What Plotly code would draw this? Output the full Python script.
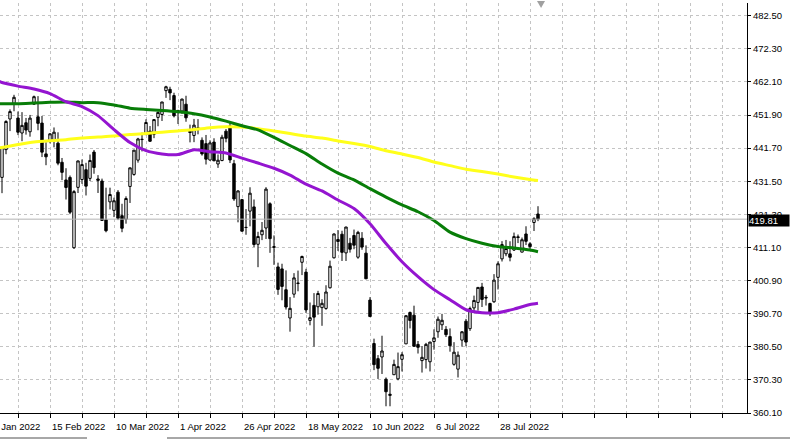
import plotly.graph_objects as go
import pandas as pd

# ---------------- data ----------------
holidays = ["2022-02-21", "2022-04-15", "2022-05-30", "2022-06-20", "2022-07-04"]
dates = pd.bdate_range("2022-01-24", "2022-08-11", freq="C", holidays=holidays)

opens = [432.03, 433.06, 440.72, 438.26, 432.68, 441.24, 450.68, 455.50, 450.95, 446.35,
         449.51, 446.73, 455.22, 451.34, 449.41, 439.92, 443.73, 443.93, 443.22, 437.33,
         431.89, 432.66, 411.02, 429.61, 432.03, 435.04, 432.37, 440.47, 431.75, 431.55,
         419.62, 425.14, 422.52, 428.12, 420.89, 419.77, 429.89, 433.59, 438.00, 444.34,
         445.86, 446.91, 445.94, 451.16, 452.06, 459.40, 459.80, 457.89, 453.31, 453.13,
         455.22, 446.89, 445.59, 447.97, 444.11, 443.08, 438.03, 443.55, 436.81, 437.86,
         446.92, 448.54, 436.91, 423.67, 425.83, 417.24, 422.29, 423.59, 412.07, 415.01,
         417.08, 424.55, 411.10, 405.10, 404.49, 398.07, 389.37, 396.71, 399.98, 406.53,
         403.50, 388.62, 393.25, 392.83, 392.56, 392.31, 398.67, 407.91, 413.55, 415.17,
         409.42, 412.40, 414.78, 408.10, 413.93, 409.34, 394.88, 381.50, 376.85, 377.36,
         370.51, 365.51, 371.89, 370.62, 376.64, 381.40, 391.05, 390.23, 381.23, 376.24,
         376.56, 375.88, 382.11, 385.12, 387.27, 385.85, 383.65, 375.10, 373.61, 382.55,
         388.38, 386.08, 392.47, 394.16, 398.92, 395.75, 393.84, 394.36, 401.89, 407.58,
         409.15, 409.12, 410.30, 414.37, 409.66, 415.25, 412.22, 418.78, 421.40]
highs = [440.38, 439.72, 444.04, 441.59, 442.00, 450.28, 453.63, 458.12, 452.97, 452.78,
         450.99, 451.92, 457.88, 457.71, 451.61, 443.50, 446.28, 448.06, 446.57, 438.66,
         435.50, 433.26, 428.76, 437.84, 438.20, 437.17, 439.72, 441.11, 433.37, 432.30,
         429.51, 429.51, 426.43, 428.77, 424.55, 426.84, 435.68, 441.07, 444.86, 446.46,
         450.58, 448.49, 450.50, 452.98, 455.91, 460.90, 460.60, 458.76, 453.46, 456.91,
         457.83, 448.93, 450.69, 450.63, 445.00, 445.75, 444.11, 444.73, 439.75, 445.80,
         447.57, 450.01, 438.08, 428.69, 426.04, 422.92, 429.64, 425.87, 415.92, 418.93,
         429.66, 425.00, 414.80, 406.41, 406.08, 404.04, 395.80, 403.18, 403.97, 408.57,
         404.52, 394.14, 397.03, 397.73, 395.15, 399.45, 407.04, 415.38, 416.46, 416.24,
         417.44, 414.04, 416.61, 416.22, 415.82, 411.74, 395.78, 383.00, 377.94, 383.90,
         371.04, 369.38, 376.53, 378.72, 378.83, 390.09, 391.36, 393.16, 382.27, 380.66,
         381.70, 381.98, 385.87, 389.83, 390.64, 386.87, 386.16, 381.92, 379.05, 385.25,
         389.09, 392.87, 396.26, 398.84, 400.18, 396.47, 394.06, 402.88, 406.80, 413.03,
         413.41, 413.00, 415.68, 415.09, 414.15, 417.62, 412.75, 420.40, 423.80]
lows = [420.76, 427.15, 428.86, 429.45, 427.82, 439.81, 446.94, 453.05, 445.71, 443.83,
        445.85, 445.22, 455.00, 447.20, 438.94, 436.43, 443.18, 441.94, 436.42, 431.82,
        425.86, 421.35, 410.64, 427.86, 430.70, 427.11, 431.57, 433.80, 427.88, 419.36,
        415.76, 422.82, 420.44, 419.53, 415.79, 418.42, 424.80, 433.19, 437.22, 440.68,
        445.86, 443.71, 444.76, 448.43, 450.06, 457.18, 456.47, 451.16, 449.14, 452.26,
        449.82, 443.47, 443.53, 445.94, 439.39, 436.65, 437.84, 437.68, 435.61, 437.68,
        443.48, 437.10, 425.44, 418.84, 416.07, 415.01, 417.60, 411.21, 405.02, 413.36,
        413.71, 409.44, 405.73, 396.50, 394.82, 391.96, 385.15, 395.61, 397.60, 402.58,
        390.93, 387.11, 380.54, 390.38, 386.96, 391.89, 398.45, 407.70, 410.03, 406.93,
        406.93, 409.51, 410.55, 407.61, 410.38, 401.44, 389.75, 373.30, 370.59, 372.12,
        362.17, 362.17, 371.81, 370.18, 372.89, 381.37, 386.16, 380.53, 378.42, 372.56,
        373.80, 372.90, 379.60, 383.27, 385.66, 383.50, 378.99, 374.66, 371.04, 380.54,
        380.66, 385.39, 391.03, 391.63, 392.75, 393.21, 389.95, 394.05, 398.15, 406.77,
        408.40, 406.82, 410.00, 412.44, 409.60, 411.83, 410.22, 416.16, 419.20]
closes = [439.84, 434.47, 433.38, 431.24, 441.95, 449.91, 452.95, 457.35, 446.60, 448.70,
          447.26, 450.94, 457.54, 449.32, 440.46, 439.02, 446.10, 446.60, 437.06, 434.23,
          429.57, 421.95, 428.30, 437.75, 436.63, 429.98, 437.89, 435.71, 432.17, 419.43,
          416.25, 427.41, 425.48, 420.07, 417.00, 426.17, 435.62, 441.07, 444.52, 444.39,
          449.59, 443.80, 450.49, 452.69, 455.91, 460.60, 458.70, 451.64, 452.92, 456.80,
          451.03, 446.52, 448.77, 447.57, 439.92, 438.29, 443.31, 437.79, 437.97, 445.04,
          444.71, 438.06, 426.04, 428.51, 416.10, 417.27, 427.81, 412.00, 414.48, 416.38,
          429.06, 413.81, 411.34, 398.17, 399.09, 392.75, 392.34, 401.72, 400.09, 408.32,
          391.86, 389.46, 389.63, 396.92, 393.89, 397.37, 405.31, 415.26, 412.93, 409.59,
          417.39, 410.54, 411.79, 415.74, 411.22, 401.44, 389.80, 375.00, 373.87, 379.20,
          366.65, 365.86, 375.07, 374.39, 378.06, 390.08, 388.59, 380.65, 380.34, 377.25,
          381.24, 381.96, 383.25, 388.99, 388.67, 384.23, 380.83, 378.83, 377.91, 385.13,
          381.95, 392.27, 394.77, 398.79, 395.09, 395.57, 390.89, 401.04, 406.07, 411.99,
          410.77, 408.06, 414.45, 414.17, 413.47, 412.99, 411.35, 419.99, 419.81]

# moving averages (bar index -> price)
ma_index = [3, 4, 8, 12, 16, 20, 24, 28, 32, 36, 40, 44, 48, 52, 56, 60, 64, 68, 72,
            76, 80, 84, 88, 92, 96, 100, 104, 108, 112, 116, 120, 124, 128, 132, 136, 138]
ma_purple = [462.5, 461.9, 460.8, 459.9, 458.5, 456.0, 454.5, 451.7, 447.4, 443.4,
             440.9, 439.9, 439.7, 441.2, 440.6, 440.2, 438.6, 437.1, 435.5, 433.4,
             430.6, 428.5, 425.7, 423.1, 418.4, 412.3, 406.7, 402.1, 398.1, 395.0,
             391.9, 391.0, 391.0, 392.1, 393.5, 393.9]
ma_green = [455.4, 455.4, 455.4, 455.6, 455.8, 455.9, 455.7, 455.7, 455.0, 454.0,
            453.6, 453.3, 452.9, 452.3, 451.3, 450.0, 448.6, 447.3, 445.0, 442.5,
            440.0, 436.8, 434.0, 431.9, 429.2, 426.6, 424.2, 422.1, 419.4, 415.8,
            413.8, 412.4, 411.4, 410.9, 410.3, 409.8]
ma_yellow = [441.7, 441.9, 442.8, 443.6, 444.0, 444.3, 444.8, 445.1, 445.4, 445.9,
             446.2, 446.6, 447.0, 447.4, 448.0, 448.3, 448.2, 447.7, 447.0, 446.2,
             445.4, 444.8, 443.9, 443.1, 442.2, 440.9, 439.9, 438.8, 437.4, 436.3,
             435.2, 434.5, 433.7, 432.8, 432.0, 431.7]

price_ticks = [360.10, 370.30, 380.50, 390.70, 400.90, 411.10, 421.30,
               431.50, 441.70, 451.90, 462.10, 472.30, 482.50]
last_price = closes[-1]

# ---------------- figure ----------------
bars = list(range(len(dates)))
X0, X1 = 3.5, 190.25
Y0, Y1 = 360.10, 486.4
GRID = "#c4c4c4"
FONT = "Liberation Sans"

fig = go.Figure()
for vals, col in [(ma_yellow, "#ffff1a"), (ma_green, "#087d08"), (ma_purple, "#9415d0")]:
    fig.add_trace(go.Scatter(x=ma_index, y=vals, mode="lines",
                             line=dict(color=col, width=3, shape="spline", smoothing=0.6),
                             hoverinfo="skip"))

fig.add_trace(go.Candlestick(
    x=bars, open=opens, high=highs, low=lows, close=closes,
    increasing=dict(line=dict(color="black", width=1), fillcolor="white"),
    decreasing=dict(line=dict(color="black", width=1), fillcolor="black"),
    whiskerwidth=0, hoverinfo="skip"))

grid_vals = list(range(0, 192, 8))
fig.update_layout(
    width=790, height=441,
    margin=dict(l=0, r=43, t=3, b=28),
    paper_bgcolor="white", plot_bgcolor="white",
    showlegend=False, boxgap=0.4, boxgroupgap=0,
    font=dict(family=FONT, size=9.5, color="black"),
    xaxis=dict(range=[X0, X1], tickvals=grid_vals, ticktext=[""] * len(grid_vals),
               showgrid=True, gridcolor=GRID, griddash="3px,3px", gridwidth=1,
               showline=True, linecolor="black", linewidth=1,
               ticks="outside", ticklen=4, tickcolor="black",
               rangeslider=dict(visible=False), zeroline=False),
    yaxis=dict(side="right", range=[Y0, Y1], tickvals=price_ticks,
               ticktext=[f"{v:.2f}" for v in price_ticks],
               showgrid=True, gridcolor=GRID, griddash="3px,3px", gridwidth=1,
               showline=True, linecolor="black", linewidth=1,
               ticks="outside", ticklen=3, tickcolor="black", zeroline=False,
               ticklabelstandoff=0),
)

# date labels, left-aligned at their tick (MetaTrader style)
for i in range(0, len(dates), 16):
    d = dates[i]
    fig.add_annotation(text=f"{d.day} {d.strftime('%b %Y')}", xref="paper", yref="paper",
                       x=(i - X0) / (X1 - X0), y=0, xanchor="left", yanchor="top",
                       yshift=-6, showarrow=False, font=dict(family=FONT, size=9.5))

# current price line and label
fig.add_shape(type="line", xref="paper", x0=0, x1=1, yref="y", y0=last_price, y1=last_price,
              line=dict(color="#b4b4b4", width=1))
fig.add_annotation(text=f"{last_price:.2f}", xref="paper", x=1, xanchor="left", xshift=1,
                   yref="y", y=last_price, yanchor="middle", yshift=-1, showarrow=False,
                   width=40, align="left", height=11,
                   bgcolor="black", borderpad=0, font=dict(family=FONT, size=9.5, color="white"))

# chart-shift marker at the top
fig.add_shape(type="path", xref="paper", yref="paper",
              path="M 0.7189 1.0049 L 0.7296 1.0049 L 0.7243 0.9878 Z",
              fillcolor="#a0a0a0", line=dict(width=0))

# window tab strip under the chart
W = 747.0
for a, b in [(0, 87), (167, 790)]:
    fig.add_shape(type="line", xref="paper", yref="paper", x0=a / W, x1=b / W,
                  y0=-25 / 410, y1=-25 / 410, line=dict(color="#505050", width=1))

fig.write_html("out.html", config={"displayModeBar": False},
               post_script="document.body.style.margin='0px';")
